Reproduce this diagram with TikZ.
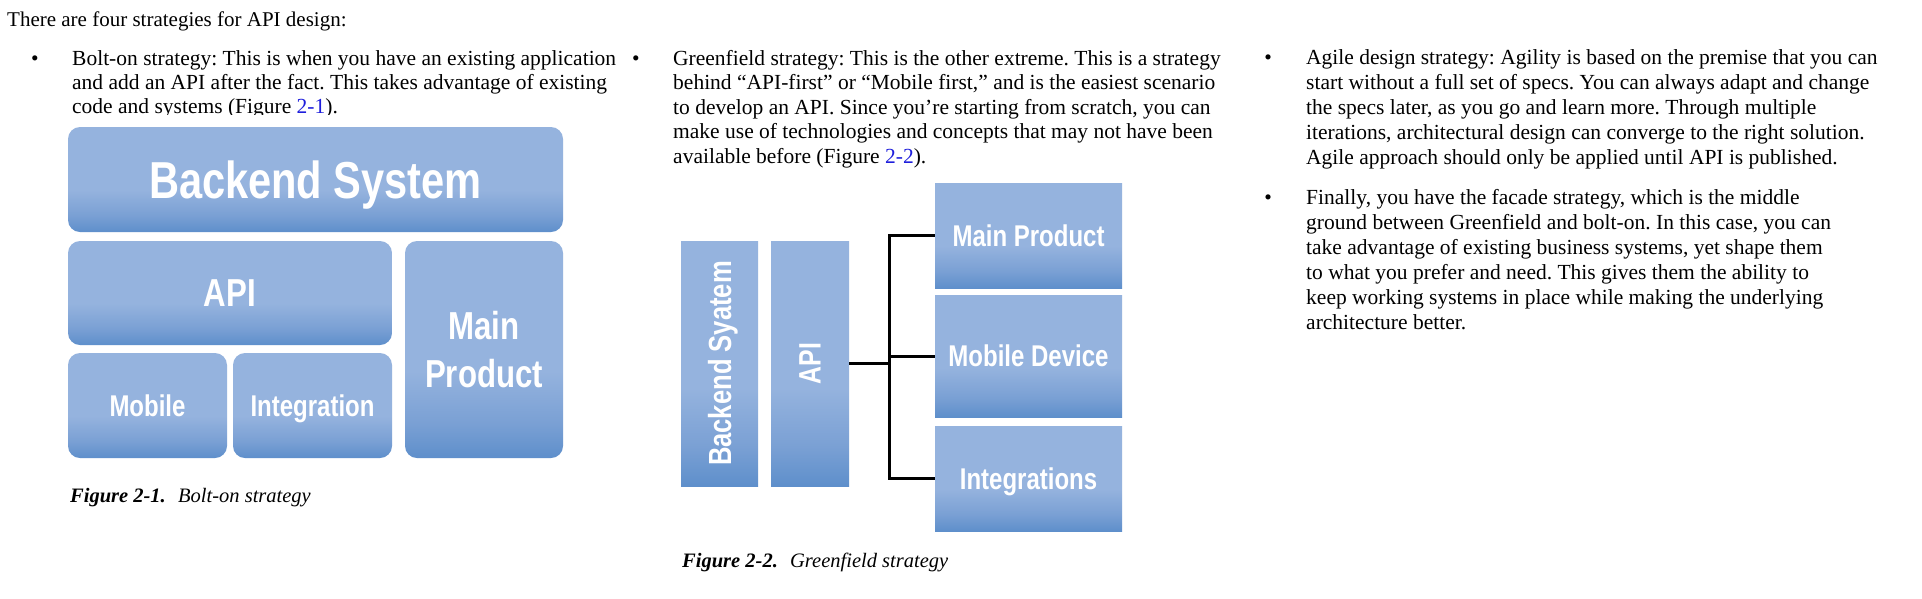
\documentclass[tikz,border=0pt]{standalone}
\usepackage{fontspec}
\setmainfont{Liberation Serif}
\newfontfamily\boxfont[FakeStretch=0.8]{Liberation Sans Bold}
\definecolor{blight}{RGB}{149,179,222}
\definecolor{bmid}{RGB}{122,160,212}
\definecolor{bdark}{RGB}{94,143,203}
\definecolor{linkblue}{RGB}{30,30,220}
\pgfdeclareverticalshading{boxshade}{100bp}{color(0bp)=(bdark); color(25bp)=(bdark); color(33bp)=(bmid); color(45bp)=(blight); color(75bp)=(blight); color(100bp)=(blight)}
\tikzset{
  body/.style={anchor=base west, inner sep=0pt, font=\fontsize{21.5}{24}\selectfont\frenchspacing},
  bul/.style={anchor=base, inner sep=0pt, font=\fontsize{21.5}{24}\selectfont},
  captxt/.style={anchor=base west, inner sep=0pt, font=\fontsize{20.5}{24}\selectfont},
  rbox/.style={shading=boxshade, rounded corners=12pt, inner sep=0pt, text=white, text depth=0pt},
  sbox/.style={shading=boxshade, inner sep=0pt, text=white, text depth=0pt},
  lbl/.style={inner sep=0pt, text=white, text depth=0pt},
  conn/.style={line width=3pt, black, line join=miter}
}
\begin{document}
\begin{tikzpicture}[x=1pt, y=-1pt]
\useasboundingbox[fill=white] (0,0) rectangle (1922,598);

% intro
\node[body, font=\fontsize{21}{24}\selectfont] (intro) at (7,26) {There are four strategies for API design:};

% column 1
\node[bul] (b1) at (35,65) {•};
\node[body] (c1l1) at (72,65) {Bolt-on strategy: This is when you have an existing application};
\node[body] (c1l2) at (72,89) {and add an API after the fact. This takes advantage of existing};
\begin{scope}
\clip (0,0) rectangle (640,114.5);
\node[body] (c1l3) at (72,113) {code and systems (Figure \textcolor{linkblue}{2-1}).};
\end{scope}

% figure 2-1
\node[rbox, minimum width=495pt, minimum height=105pt, font=\boxfont\fontsize{52}{60}\selectfont] (bs) at (315.5,179.5) {Backend System};
\node[rbox, minimum width=324pt, minimum height=104pt, font=\boxfont\fontsize{39}{48}\selectfont] (api) at (230,293) {API};
\node[rbox, minimum width=159pt, minimum height=105pt, font=\boxfont\fontsize{30}{36}\selectfont] (mob) at (147.5,405.5) {Mobile};
\node[rbox, minimum width=159pt, minimum height=105pt, font=\boxfont\fontsize{30}{36}\selectfont] (integ) at (312.5,405.5) {Integration};
\node[rbox, minimum width=158pt, minimum height=217pt, align=center, font=\boxfont\fontsize{39}{48}\selectfont] (mp) at (484,349.5) {Main\\Product};
\node[captxt] (cap1) at (70,502) {\textbf{\textit{Figure 2-1.}}\hspace{0.6em}\textit{Bolt-on strategy}};

% column 2
\node[bul] (b2) at (636,65) {•};
\node[body] (c2l1) at (673,65) {Greenfield strategy: This is the other extreme. This is a strategy};
\node[body] (c2l2) at (673,89.5) {behind “API-first” or “Mobile first,” and is the easiest scenario};
\node[body] (c2l3) at (673,114) {to develop an API. Since you’re starting from scratch, you can};
\node[body] (c2l4) at (673,138.5) {make use of technologies and concepts that may not have been};
\node[body] (c2l5) at (673,163) {available before (Figure \textcolor{linkblue}{2-2}).};

% figure 2-2
\node[sbox, minimum width=77pt, minimum height=245pt] (bks) at (719.5,363.5) {};
\node[lbl, rotate=90, font=\boxfont\fontsize{32}{38}\selectfont] (bkslbl) at (bks.center) {Backend Syatem};
\node[sbox, minimum width=78pt, minimum height=245pt] (api2) at (810,363.5) {};
\node[lbl, rotate=90, font=\boxfont\fontsize{31}{38}\selectfont] (api2lbl) at (api2.center) {API};
\node[sbox, minimum width=187pt, minimum height=105pt, font=\boxfont\fontsize{30}{36}\selectfont] (mp2) at (1028.5,235.5) {Main Product};
\node[sbox, minimum width=187pt, minimum height=122pt, font=\boxfont\fontsize{30}{36}\selectfont] (md) at (1028.5,356) {Mobile Device};
\node[sbox, minimum width=187pt, minimum height=105pt, font=\boxfont\fontsize{30}{36}\selectfont] (int2) at (1028.5,478.5) {Integrations};
\coordinate (j) at (889,363.5);
\draw[conn] (api2.east) -- (j);
\draw[conn] (mp2.west) -| (j) |- (int2.west);
\draw[conn] (md.west) -- (md.west -| j);
\node[captxt] (cap2) at (682,567) {\textbf{\textit{Figure 2-2.}}\hspace{0.6em}\textit{Greenfield strategy}};

% column 3
\node[bul] (b3) at (1268,64) {•};
\node[body] (c3l1) at (1306,64) {Agile design strategy: Agility is based on the premise that you can};
\node[body] (c3l2) at (1306,89) {start without a full set of specs. You can always adapt and change};
\node[body] (c3l3) at (1306,114) {the specs later, as you go and learn more. Through multiple};
\node[body] (c3l4) at (1306,139) {iterations, architectural design can converge to the right solution.};
\node[body] (c3l5) at (1306,164) {Agile approach should only be applied until API is published.};
\node[bul] (b4) at (1268,204) {•};
\node[body] (c4l1) at (1306,204) {Finally, you have the facade strategy, which is the middle};
\node[body] (c4l2) at (1306,229) {ground between Greenfield and bolt-on. In this case, you can};
\node[body] (c4l3) at (1306,254) {take advantage of existing business systems, yet shape them};
\node[body] (c4l4) at (1306,279) {to what you prefer and need. This gives them the ability to};
\node[body] (c4l5) at (1306,304) {keep working systems in place while making the underlying};
\node[body] (c4l6) at (1306,329) {architecture better.};
\end{tikzpicture}
\end{document}
